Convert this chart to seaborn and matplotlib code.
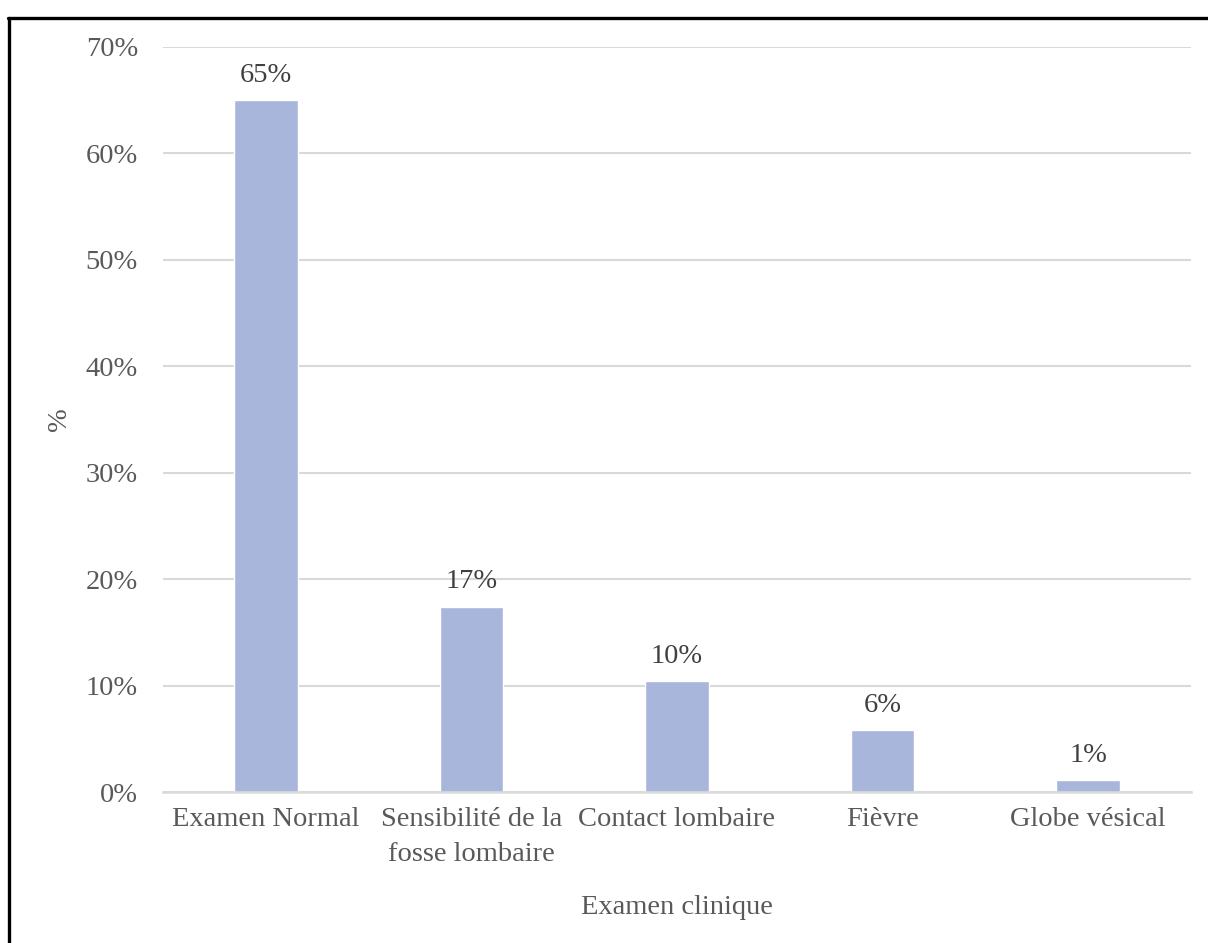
import matplotlib
matplotlib.use("Agg")
import matplotlib.pyplot as plt
from matplotlib.lines import Line2D
from matplotlib.ticker import FuncFormatter, MultipleLocator
import seaborn as sns
import pandas as pd

# Clinical examination findings (share of patients, %)
categories = ["Examen Normal", "Sensibilité de la\nfosse lombaire", "Contact lombaire",
              "Fièvre", "Globe vésical"]
values = [65.0, 17.4, 10.4, 5.8, 1.1]

df = pd.DataFrame({"examen": categories, "pct": values})

sns.set_theme(style="white")
plt.rcParams["font.family"] = ["Liberation Serif", "DejaVu Serif"]

W, H = 1208, 943
fig = plt.figure(figsize=(W / 100, H / 100), dpi=100)
ax = fig.add_axes([163 / W, 1 - 792 / H, (1191 - 163) / W, (792 - 47) / H])

sns.barplot(data=df, x="examen", y="pct", color="#A9B6DB", saturation=1,
            width=0.31, ax=ax)

ax.set_ylim(0, 70)
ax.set_xlim(-0.5, len(categories) - 0.5)
ax.yaxis.set_major_locator(MultipleLocator(10))
ax.yaxis.set_major_formatter(FuncFormatter(lambda v, _: f"{v:.0f}%"))
ax.grid(axis="y", color="#D9D9D9", linewidth=1.5)
ax.set_axisbelow(True)
for side in ["top", "right", "left"]:
    ax.spines[side].set_visible(False)
ax.spines["bottom"].set_color("#D9D9D9")
ax.spines["bottom"].set_linewidth(1.8)

ax.tick_params(axis="both", length=0, labelsize=20.5, colors="#595959")
ax.tick_params(axis="y", pad=18)
ax.tick_params(axis="x", pad=11)
for lbl in ax.get_xticklabels():
    lbl.set_linespacing(1.5)

ax.set_xlabel("Examen clinique", fontsize=20.5, color="#595959", labelpad=20)
ax.set_ylabel("%", fontsize=20.5, color="#595959")
ax.yaxis.set_label_coords((72 - 163) / (1191 - 163), 0.5)

for i, v in enumerate(values):
    ax.annotate(f"{v:.0f}%", xy=(i, v), xytext=(0, 9), textcoords="offset points",
                ha="center", va="bottom", fontsize=20.5, color="#404040")

# Frame lines along the top and left edges
fig.add_artist(Line2D([8 / W, 1], [1 - 18 / H, 1 - 18 / H], color="black",
                      linewidth=2.4, transform=fig.transFigure))
fig.add_artist(Line2D([9 / W, 9 / W], [0, 1 - 18 / H], color="black",
                      linewidth=2.4, transform=fig.transFigure))

fig.savefig("out.png", dpi=100, facecolor="white")
